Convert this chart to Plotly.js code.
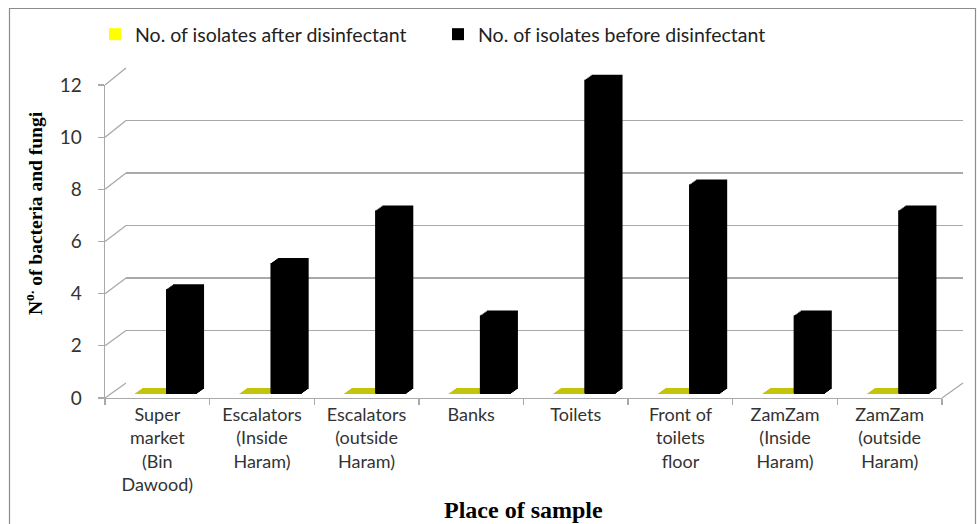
<!DOCTYPE html>
<html>
<head>
<meta charset="utf-8">
<script src="https://cdn.plot.ly/plotly-3.0.1.min.js"></script>
<style>html,body{margin:0;padding:0;background:#fff;}#chart{width:977px;height:524px;}</style>
</head>
<body>
<div id="chart"></div>
<script>
// ---- data ----
const categories = [
  "Super<br>market<br>(Bin<br>Dawood)",
  "Escalators<br>(Inside<br>Haram)",
  "Escalators<br>(outside<br>Haram)",
  "Banks",
  "Toilets",
  "Front of<br>toilets<br>floor",
  "ZamZam<br>(Inside<br>Haram)",
  "ZamZam<br>(outside<br>Haram)"
];
const afterDisinfectant = [0, 0, 0, 0, 0, 0, 0, 0];
const beforeDisinfectant = [4, 5, 7, 3, 12, 8, 3, 7];
const yTickValues = [0, 2, 4, 6, 8, 10, 12];
const seriesNames = ["No. of isolates after disinfectant", "No. of isolates before disinfectant"];
const xTitle = "Place of sample";
const yTitle = "N<sup>o.</sup> of bacteria and fungi";

// ---- geometry helpers (pixel -> paper) ----
const W = 977, H = 524;
const px = p => p / W;
const py = p => 1 - p / H;
const yMax = 12;
const xRange = [-0.5, categories.length - 0.5];

// front frame (axes) and back wall
const front = { x: [105, 942], y: [398, 85] };
const back  = { x: [126, 963], y: [383, 68] };
// bar front plane and the depth of a bar (pixels)
const barF  = { x: [110.6, 947.6], y: [394, 79.6] };
const depth = { dx: 7, dy: -5 };
const nPlanes = 6;

const slot = (front.x[1] - front.x[0]) / categories.length;
const barPx = 31;
const barW = barPx / slot;
const blackOffset = 0.03;
// the yellow (zero) bar sits just left of the black bar
const yellowShiftPx = blackOffset * slot - barPx / 2;

function dom(r) { return [px(r[0]), px(r[1])]; }
function domY(r) { return [py(r[0]), py(r[1])]; }

const sans = "Lato, 'Liberation Sans', sans-serif";
const serif = "'Liberation Serif', 'Times New Roman', serif";
const lineCol = "#a9a9a9";

const hiddenX = (d, anchor) => ({ domain: dom(d), anchor: anchor, type: "category", range: xRange, visible: false, fixedrange: true });
const hiddenY = (d, anchor) => ({ domain: domY(d), anchor: anchor, range: [0, yMax], visible: false, fixedrange: true });

const layoutAxes = {};
const traces = [
  { // back wall subplot placeholder
    type: "scatter", mode: "markers", x: categories, y: afterDisinfectant,
    marker: { opacity: 0 }, xaxis: "x2", yaxis: "y2", showlegend: false, hoverinfo: "skip"
  },
  { // front frame placeholder
    type: "scatter", mode: "markers", x: categories, y: afterDisinfectant,
    marker: { opacity: 0 }, xaxis: "x", yaxis: "y", showlegend: false, hoverinfo: "skip"
  }
];

// depth planes, back to front: black bars and yellow zero-bar tops
let axN = 3;
let frontAx = 3;
for (let k = nPlanes - 1; k >= 0; k--) {
  const t = k / (nPlanes - 1);
  const sx = t * depth.dx, sy = t * depth.dy;
  const xb = [barF.x[0] + sx, barF.x[1] + sx], yb = [barF.y[0] + sy, barF.y[1] + sy];
  const a = axN++;
  layoutAxes["xaxis" + a] = hiddenX(xb, "y" + a);
  layoutAxes["yaxis" + a] = hiddenY(yb, "x" + a);
  traces.push({
    type: "bar", name: seriesNames[1], x: categories, y: beforeDisinfectant,
    xaxis: "x" + a, yaxis: "y" + a, width: barW, offset: blackOffset,
    marker: { color: "#000000" }, showlegend: false, hoverinfo: k === 0 ? "x+y+name" : "skip"
  });
  if (k === 0) frontAx = a;
  const b = axN++;
  layoutAxes["xaxis" + b] = hiddenX([xb[0] + yellowShiftPx, xb[1] + yellowShiftPx], "y" + b);
  layoutAxes["yaxis" + b] = hiddenY(yb, "x" + b);
  traces.push({
    type: "scatter", mode: "markers", x: categories, y: afterDisinfectant,
    xaxis: "x" + b, yaxis: "y" + b, showlegend: false, hoverinfo: "skip",
    marker: { symbol: "line-ew", size: barPx / 1.4, line: { width: 2, color: "#c4c40a" } }
  });
}
// legend entries (drawn on the front plane)
traces.push({
  type: "bar", name: seriesNames[0], x: categories, y: afterDisinfectant,
  xaxis: "x" + frontAx, yaxis: "y" + frontAx, width: barW, offset: blackOffset - barW,
  marker: { color: "#ffff00" }
});
traces.push({
  type: "bar", name: seriesNames[1], x: categories, y: beforeDisinfectant,
  xaxis: "x" + frontAx, yaxis: "y" + frontAx, width: barW, offset: blackOffset,
  marker: { color: "#000000" }
});

// connectors from the front axis ticks to the back wall gridlines
const fy = v => py(front.y[0]) + (py(front.y[1]) - py(front.y[0])) * v / yMax;
const by = v => py(back.y[0]) + (py(back.y[1]) - py(back.y[0])) * v / yMax;
const shapes = yTickValues.map(v => ({
  type: "line", xref: "paper", yref: "paper",
  x0: px(front.x[0]), y0: fy(v), x1: px(back.x[0]), y1: by(v),
  line: { color: lineCol, width: 1.3 }
}));
shapes.push({
  type: "line", xref: "paper", yref: "paper",
  x0: px(front.x[1]), y0: fy(0), x1: px(back.x[1]), y1: by(0),
  line: { color: lineCol, width: 1.3 }
});
shapes.push({
  type: "rect", xref: "paper", yref: "paper",
  x0: px(9.5), y0: py(8.5), x1: px(975.5), y1: py(540),
  line: { color: "#8c8c8c", width: 1.2 }, fillcolor: "rgba(0,0,0,0)", layer: "below"
});

const layout = Object.assign({
  width: W, height: H,
  margin: { l: 0, r: 0, t: 0, b: 0, pad: 0 },
  paper_bgcolor: "#ffffff", plot_bgcolor: "rgba(0,0,0,0)",
  barmode: "overlay",
  showlegend: true,
  legend: {
    orientation: "h", x: px(95), y: py(15), xanchor: "left", yanchor: "top",
    font: { family: sans, size: 19.5, color: "#222222" },
    entrywidth: 298, entrywidthmode: "pixels", traceorder: "normal", bgcolor: "rgba(0,0,0,0)"
  },
  xaxis: {
    domain: dom(front.x), anchor: "y", type: "category", range: xRange,
    showline: true, linecolor: lineCol, linewidth: 1.3,
    ticks: "outside", tickson: "boundaries", ticklen: 6, tickcolor: lineCol, tickwidth: 1.3,
    showgrid: false, zeroline: false, tickfont: { family: sans, size: 18, color: "#333333" },
    fixedrange: true, automargin: false
  },
  yaxis: {
    domain: domY(front.y), anchor: "x", range: [0, yMax], tickvals: yTickValues,
    showline: true, linecolor: lineCol, linewidth: 1.3,
    ticks: "outside", ticklen: 6, tickcolor: lineCol, tickwidth: 1.3, ticklabelstandoff: 12,
    showgrid: false, zeroline: false, tickfont: { family: sans, size: 19, color: "#333333" },
    fixedrange: true, automargin: false
  },
  xaxis2: { domain: dom(back.x), anchor: "y2", type: "category", range: xRange,
    showline: false, showgrid: false, zeroline: false, showticklabels: false, ticks: "", fixedrange: true },
  yaxis2: { domain: domY(back.y), anchor: "x2", range: [-0.01, yMax + 0.01], tickvals: yTickValues,
    showline: false, showgrid: true, gridcolor: lineCol, gridwidth: 1.6, zeroline: false,
    showticklabels: false, ticks: "", fixedrange: true },
  shapes: shapes,
  annotations: [
    { text: xTitle, xref: "paper", yref: "paper", x: px(523.5), y: py(510), xanchor: "center", yanchor: "middle",
      showarrow: false, font: { family: serif, size: 24, color: "#000", weight: "bold" } },
    { text: yTitle, xref: "paper", yref: "paper", x: px(34), y: py(213), xanchor: "center", yanchor: "middle",
      textangle: -90, showarrow: false, font: { family: serif, size: 19.5, color: "#000", weight: "bold" } }
  ]
}, layoutAxes);

Plotly.newPlot("chart", traces, layout, { staticPlot: true, displayModeBar: false });
</script>
</body>
</html>
